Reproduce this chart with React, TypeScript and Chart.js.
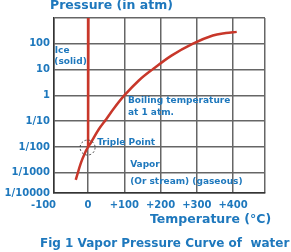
import React, { useEffect, useRef } from "react";
import { Chart, registerables } from "chart.js";

Chart.register(...registerables);

// ---- data ----
const curveTemps = [-34, -20, -8, 0, 8, 30, 50, 70, 100, 140, 177, 230, 288, 344, 380, 410];
const curvePressures = [5.4e-4, 0.0024, 0.0062, 0.01, 0.015, 0.05, 0.12, 0.3, 1, 3.8, 10, 35, 100, 210, 260, 290];
const meltTemps = [1, 0];
const meltPressures = [1000, 0.01];
const triplePoint = [0, 0.01];

const xTickValues = [-94, 0, 100, 200, 300, 400, 488];
const xTickLabels = ["-100      ", "0", "+100", "+200", "+300", "+400", ""];
const yTickValues = [1.66e-4, 1e-3, 1e-2, 1e-1, 1, 10, 100, 1000];
const yTickLabels = ["1/10000", "1/1000", "1/100", "1/10", "1", "10", "100", ""];

const titleText = "Pressure (in atm)";
const xTitleText = "Temperature (°C)";
const captionText = "Fig 1 Vapor Pressure Curve of  water";

const BLUE = "#1e78bd";
const RED = "#c8372a";
const FONT = "DejaVu Sans";

const annotationPlugin = {
  id: "annotations",
  afterDraw(chart: any) {
    const { ctx, scales } = chart;
    const x = scales.x;
    const y = scales.y;
    ctx.save();
    // triple point dashed circle
    ctx.setLineDash([2, 2]);
    ctx.strokeStyle = "#444";
    ctx.lineWidth = 1;
    ctx.beginPath();
    ctx.arc(x.getPixelForValue(triplePoint[0]) - 0.5, y.getPixelForValue(triplePoint[1]) + 0.5, 7.5, 0, Math.PI * 2);
    ctx.stroke();
    ctx.setLineDash([]);

    // region labels
    ctx.fillStyle = BLUE;
    ctx.font = `bold 9px "${FONT}"`;
    ctx.textAlign = "left";
    ctx.textBaseline = "middle";
    const labels: [string, number, number][] = [
      ["Ice", -92, 52],
      ["(solid)", -93, 19.7],
      ["Boiling temperature", 110, 0.61],
      ["at 1 atm.", 110, 0.21],
      ["Triple Point", 25, 0.0143],
      ["Vapor", 116, 0.002],
      ["(Or stream) (gaseous)", 116, 4.4e-4],
    ];
    for (const [t, tv, pv] of labels) {
      ctx.fillText(t, x.getPixelForValue(tv), y.getPixelForValue(pv));
    }

    // titles
    ctx.textBaseline = "alphabetic";
    ctx.font = `bold 12.5px "${FONT}"`;
    ctx.textAlign = "left";
    ctx.fillText(titleText, 50, 9);
    ctx.fillText(xTitleText, 150, 223);
    ctx.font = `bold 12px "${FONT}"`;
    ctx.fillText(captionText, 40, 247);
    ctx.restore();
  },
};

export default function App() {
  const ref = useRef<HTMLCanvasElement>(null);
  useEffect(() => {
    if (!ref.current) return;
    Chart.defaults.font.family = FONT;
    const chart = new Chart(ref.current, {
      type: "scatter",
      data: {
        datasets: [
          {
            data: curveTemps.map((t, i) => ({ x: t, y: curvePressures[i] })),
            showLine: true,
            borderColor: RED,
            borderWidth: 2.5,
            pointRadius: 0,
            tension: 0.35,
          },
          {
            data: meltTemps.map((t, i) => ({ x: t, y: meltPressures[i] })),
            showLine: true,
            borderColor: RED,
            borderWidth: 2.5,
            pointRadius: 0,
          },
        ],
      },
      options: {
        animation: false,
        responsive: false,
        devicePixelRatio: 1,
        layout: { padding: { top: 18, right: 26, left: 0, bottom: 0 } },
        plugins: { legend: { display: false }, tooltip: { enabled: false } },
        scales: {
          x: {
            type: "linear",
            min: -94,
            max: 488,
            afterBuildTicks: (s: any) => {
              s.ticks = xTickValues.map((v) => ({ value: v }));
            },
            afterFit: (s: any) => {
              s.height = 59;
            },
            ticks: {
              callback: (_v: any, i: number) => xTickLabels[i],
              color: BLUE,
              font: { size: 10, weight: "bold" },
              padding: 6,
              maxRotation: 0,
              autoSkip: false,
            },
            grid: { color: "#666", lineWidth: 1.5, drawTicks: false },
            border: { color: "#333", width: 1.5 },
          },
          y: {
            type: "logarithmic",
            min: 1.66e-4,
            max: 1000,
            afterBuildTicks: (s: any) => {
              s.ticks = yTickValues.map((v) => ({ value: v }));
            },
            afterFit: (s: any) => {
              s.width = 54;
            },
            ticks: {
              callback: (_v: any, i: number) => yTickLabels[i],
              color: BLUE,
              font: { size: 10, weight: "bold" },
              padding: 4,
              autoSkip: false,
            },
            grid: { color: "#666", lineWidth: 1.5, drawTicks: false },
            border: { color: "#333", width: 1.5 },
          },
        },
      },
      plugins: [annotationPlugin],
    } as any);
    return () => chart.destroy();
  }, []);
  return (
    <div style={{ position: "fixed", left: 0, top: 0, width: 291, height: 252, background: "#fff" }}>
      <canvas ref={ref} width={291} height={252} />
    </div>
  );
}
